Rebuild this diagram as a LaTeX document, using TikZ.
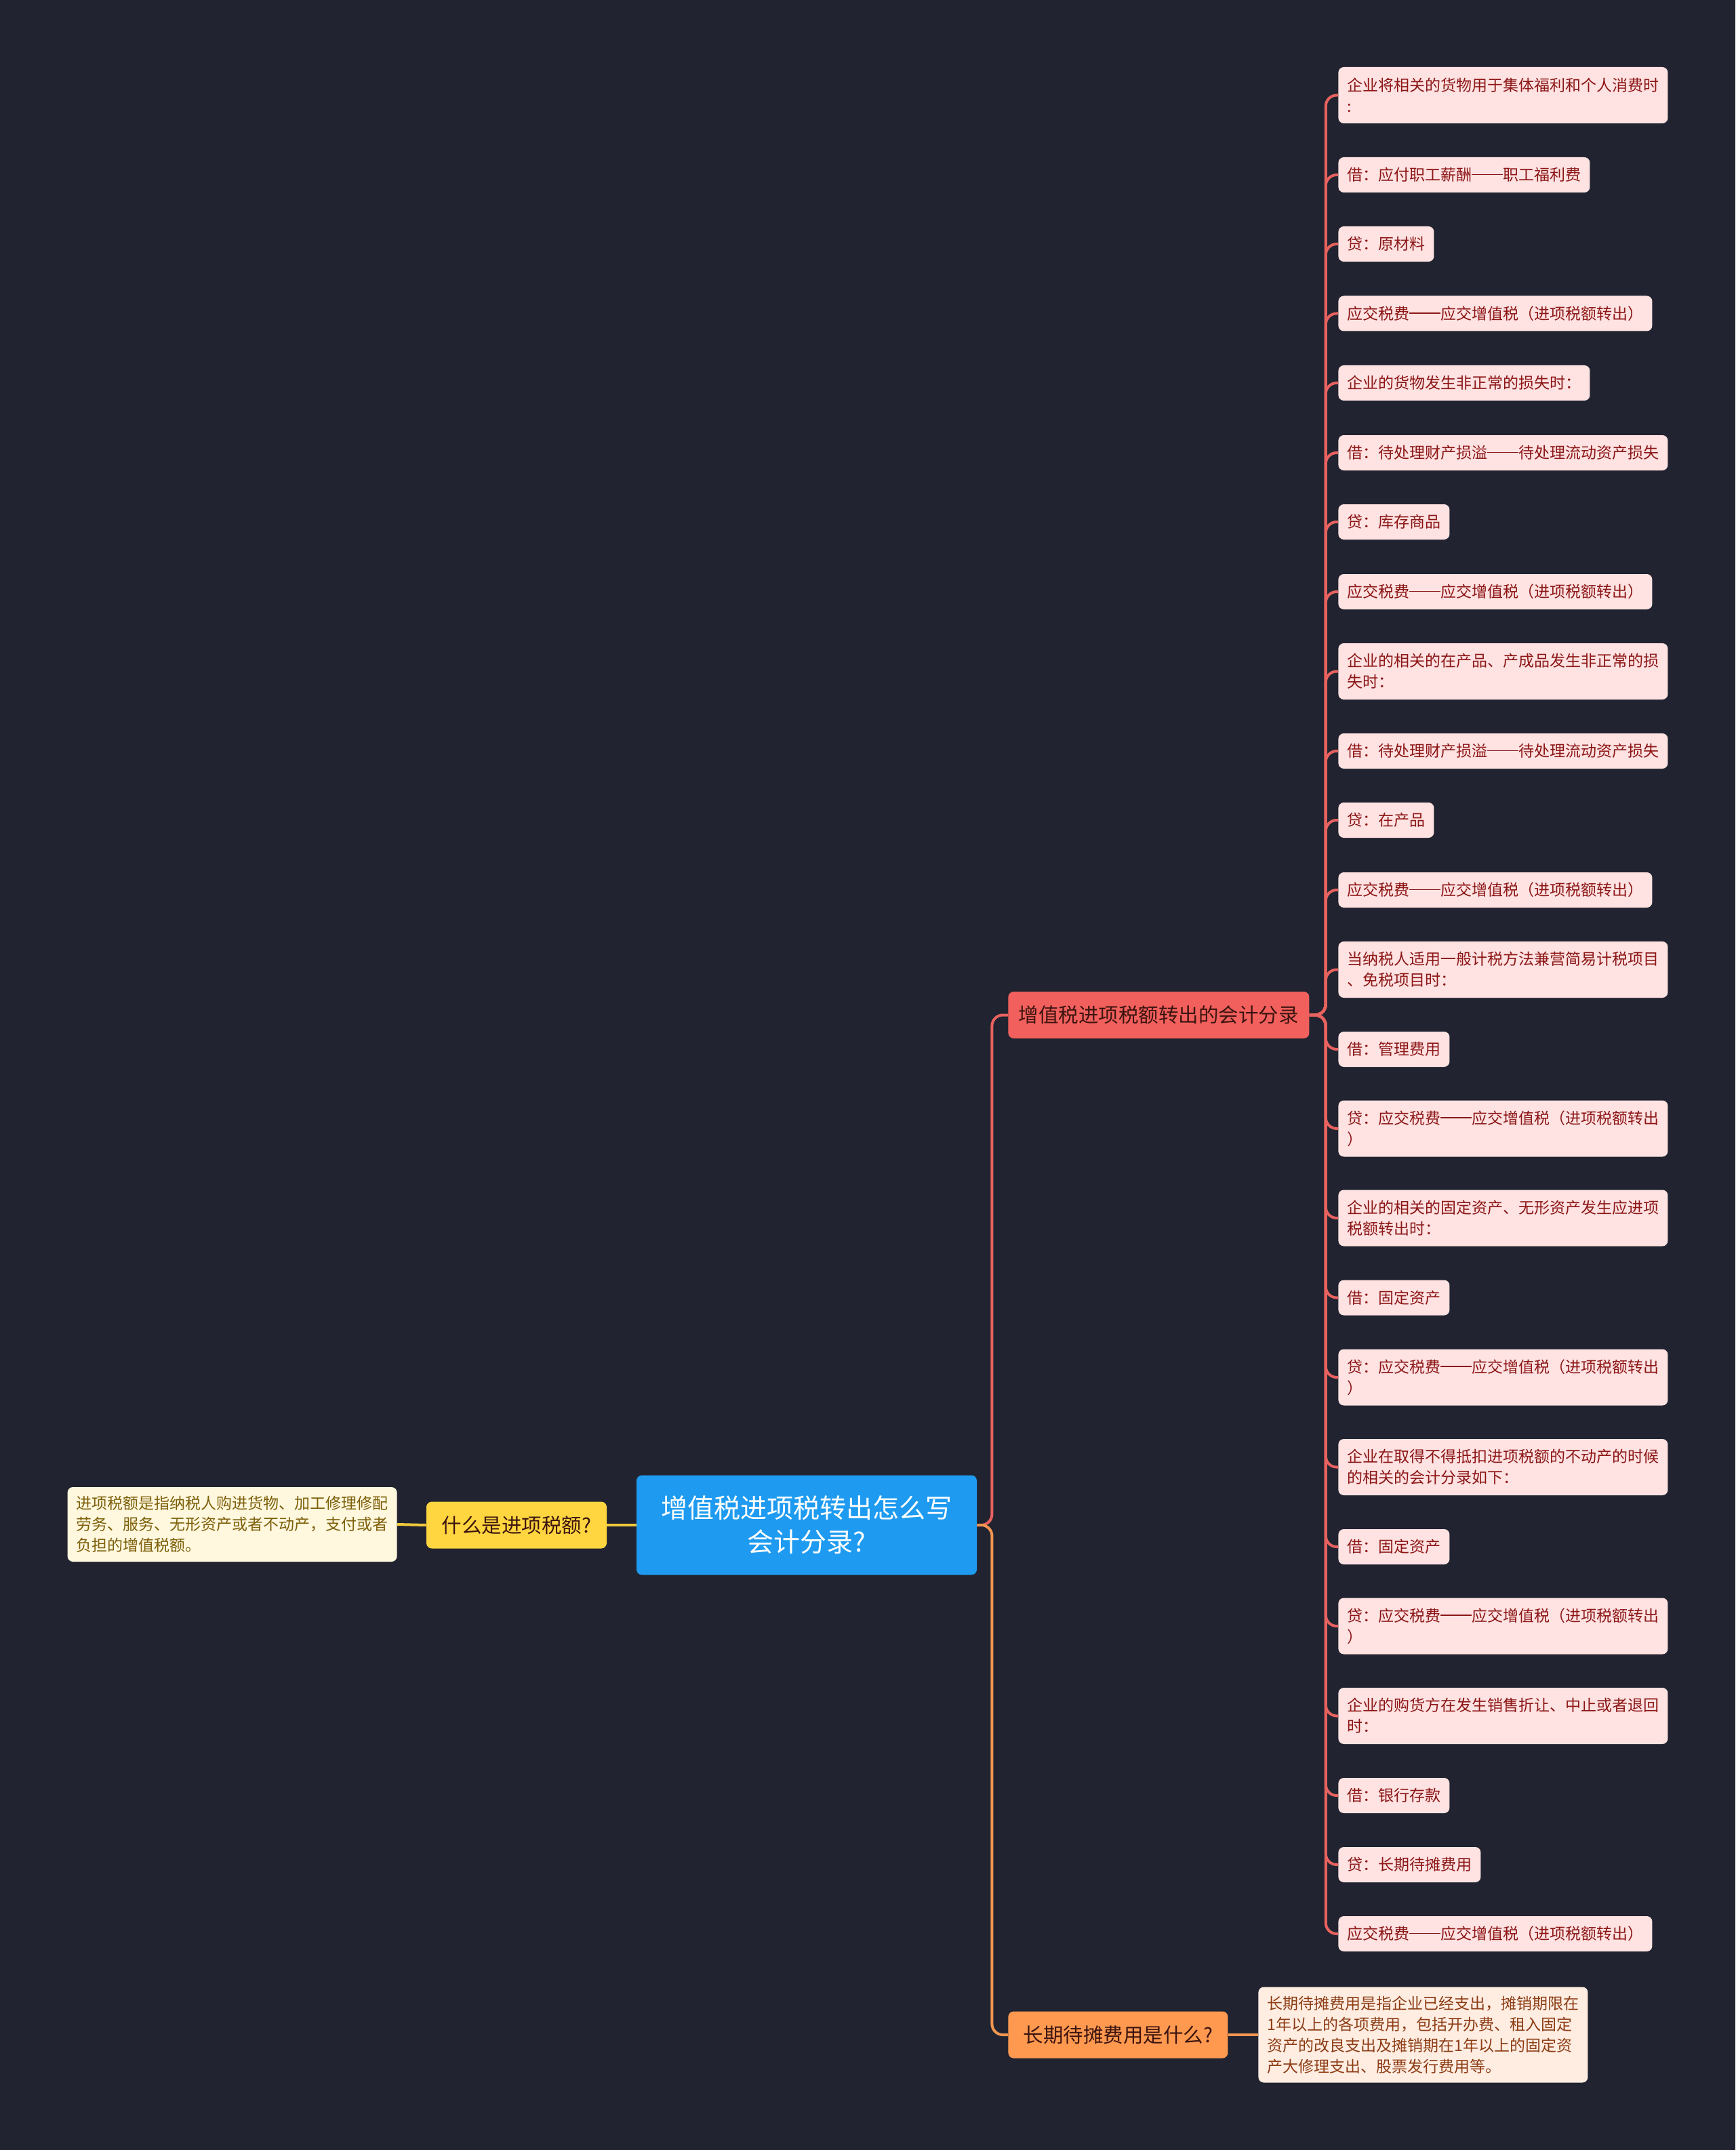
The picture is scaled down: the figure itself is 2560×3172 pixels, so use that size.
\documentclass[tikz,border=0pt]{standalone}
\usepackage{fontspec}
\setmainfont{Noto Sans CJK SC}
\usepackage{tikz}
\usetikzlibrary{positioning}

\definecolor{bgdark}{RGB}{33,36,48}
\definecolor{rootblue}{RGB}{30,155,240}
\definecolor{brred}{RGB}{242,96,93}
\definecolor{brorange}{RGB}{255,153,80}
\definecolor{bryellow}{RGB}{255,214,64}
\definecolor{brtext}{RGB}{60,20,15}
\definecolor{lfpink}{RGB}{255,226,226}
\definecolor{lfpinktext}{RGB}{140,22,22}
\definecolor{lfcream}{RGB}{255,248,222}
\definecolor{lfcreamtext}{RGB}{125,95,10}
\definecolor{lfpeach}{RGB}{255,237,226}
\definecolor{lfpeachtext}{RGB}{140,60,20}
\definecolor{lnred}{RGB}{232,98,95}
\definecolor{lnorange}{RGB}{240,150,80}
\definecolor{lnyellow}{RGB}{240,202,60}

% doppia lineetta a tutta larghezza
\newcommand{\zdash}{\raisebox{0.36em}{\rule{2em}{0.07em}}}

\tikzset{
  leafbox/.style={rounded corners=4pt, inner xsep=6.5pt, inner ysep=0pt,
    minimum height=26pt, align=left, anchor=west,
    font=\fontsize{11.5pt}{15.5pt}\selectfont},
  leafred/.style={leafbox, fill=lfpink, text=lfpinktext},
  twoline/.style={minimum height=41.5pt},
  branchbox/.style={rounded corners=4pt, inner xsep=0pt, minimum height=34.5pt,
    text=brtext, font=\fontsize{14.75pt}{18pt}\selectfont},
  link/.style={line width=2pt, rounded corners=8pt},
}

\begin{document}
\begin{tikzpicture}[x=0.5pt, y=-0.5pt]

  % --- Sfondo ---
  \fill[bgdark] (0,0) rectangle (2560,3172);
  \useasboundingbox (0,0) rectangle (2560,3172);

  % --- Nodo centrale e rami ---
  \node[rounded corners=4pt, fill=rootblue, text=white, align=center,
    minimum width=251pt, minimum height=73.5pt,
    font=\fontsize{19.5pt}{25pt}\selectfont]
    (root) at (1190,2250) {增值税进项税转出怎么写\\会计分录?};

  \node[branchbox, fill=bryellow, minimum width=133pt] (yq) at (762,2250) {什么是进项税额?};
  \node[branchbox, fill=brred, minimum width=222pt, anchor=west] (rb) at (1487,1497.5) {增值税进项税额转出的会计分录};
  \node[branchbox, fill=brorange, minimum width=162pt, anchor=west] (ob) at (1487,3002) {长期待摊费用是什么?};

  % --- Foglie laterali ---
  \node[leafbox, anchor=east, fill=lfcream, text=lfcreamtext, minimum height=55pt]
    (yleaf) at (586,2249) {进项税额是指纳税人购进货物、加工修理修配\\劳务、服务、无形资产或者不动产，支付或者\\负担的增值税额。};
  \node[leafbox, fill=lfpeach, text=lfpeachtext, minimum height=70.5pt]
    (oleaf) at (1856,3002) {长期待摊费用是指企业已经支出，摊销期限在\\1年以上的各项费用，包括开办费、租入固定\\资产的改良支出及摊销期在1年以上的固定资\\产大修理支出、股票发行费用等。};

  % --- Foglie del ramo rosso ---
  \node[leafred, twoline] (l1) at (1974,140.5) {企业将相关的货物用于集体福利和个人消费时\\:};
  \node[leafred] (l2) at (1974,258) {借：应付职工薪酬\zdash 职工福利费};
  \node[leafred] (l3) at (1974,360) {贷：原材料};
  \node[leafred] (l4) at (1974,462.5) {应交税费\zdash 应交增值税（进项税额转出）};
  \node[leafred] (l5) at (1974,565) {企业的货物发生非正常的损失时：};
  \node[leafred] (l6) at (1974,668) {借：待处理财产损溢\zdash 待处理流动资产损失};
  \node[leafred] (l7) at (1974,770) {贷：库存商品};
  \node[leafred] (l8) at (1974,873) {应交税费\zdash 应交增值税（进项税额转出）};
  \node[leafred, twoline] (l9) at (1974,990.5) {企业的相关的在产品、产成品发生非正常的损\\失时：};
  \node[leafred] (l10) at (1974,1108) {借：待处理财产损溢\zdash 待处理流动资产损失};
  \node[leafred] (l11) at (1974,1210) {贷：在产品};
  \node[leafred] (l12) at (1974,1313) {应交税费\zdash 应交增值税（进项税额转出）};
  \node[leafred, twoline] (l13) at (1974,1430.5) {当纳税人适用一般计税方法兼营简易计税项目\\、免税项目时：};
  \node[leafred] (l14) at (1974,1548) {借：管理费用};
  \node[leafred, twoline] (l15) at (1974,1665) {贷：应交税费\zdash 应交增值税（进项税额转出\\）};
  \node[leafred, twoline] (l16) at (1974,1797) {企业的相关的固定资产、无形资产发生应进项\\税额转出时：};
  \node[leafred] (l17) at (1974,1914.5) {借：固定资产};
  \node[leafred, twoline] (l18) at (1974,2032) {贷：应交税费\zdash 应交增值税（进项税额转出\\）};
  \node[leafred, twoline] (l19) at (1974,2164.5) {企业在取得不得抵扣进项税额的不动产的时候\\的相关的会计分录如下：};
  \node[leafred] (l20) at (1974,2282) {借：固定资产};
  \node[leafred, twoline] (l21) at (1974,2399) {贷：应交税费\zdash 应交增值税（进项税额转出\\）};
  \node[leafred, twoline] (l22) at (1974,2531.5) {企业的购货方在发生销售折让、中止或者退回\\时：};
  \node[leafred] (l23) at (1974,2649) {借：银行存款};
  \node[leafred] (l24) at (1974,2751) {贷：长期待摊费用};
  \node[leafred] (l25) at (1974,2853) {应交税费\zdash 应交增值税（进项税额转出）};

  % --- Collegamenti ---
  \draw[link, lnyellow] (root.west) -- (yq.east);
  \draw[link, lnyellow] (yq.west) -- (yleaf.east);
  \draw[link, lnred] (root.east) -- ++(22,0) |- (rb.west);
  \draw[link, lnorange] (root.east) -- ++(22,0) |- (ob.west);
  \draw[link, lnorange] (ob.east) -- (oleaf.west);
  \foreach \i in {1,...,25}{
    \draw[link, lnred] (rb.east) -- ++(24,0) |- (l\i.west);
  }

\end{tikzpicture}
\end{document}
